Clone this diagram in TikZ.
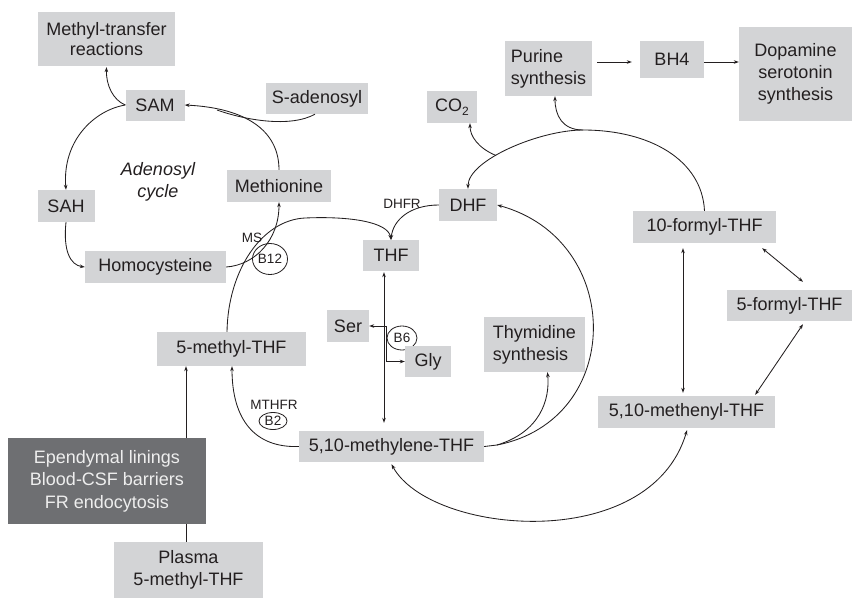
\documentclass[tikz,border=0pt]{standalone}
\usepackage{fontspec}
\setmainfont{Liberation Sans}
\usetikzlibrary{arrows.meta,shapes.geometric}
\definecolor{boxg}{HTML}{D3D4D6}
\definecolor{darkg}{HTML}{6E6F72}
\definecolor{txt}{HTML}{231F20}
\definecolor{lighttxt}{HTML}{EEEEEE}
\tikzset{
  box/.style={fill=boxg, text=txt, inner sep=0pt, font=\fontsize{18}{22}\selectfont, align=center},
  dbox/.style={fill=darkg, text=lighttxt, inner sep=0pt, font=\fontsize{18}{22.5}\selectfont, align=center},
  lbl/.style={text=txt, inner sep=0pt, font=\fontsize{13.5}{14}\selectfont},
  vit/.style={draw=txt, ellipse, line width=0.8pt, inner sep=0pt, text=txt, font=\fontsize{13.5}{14}\selectfont},
  ln/.style={draw=txt, line width=0.85pt},
  arr/.style={ln, -{Stealth[length=5pt,width=3.6pt]}},
  darr/.style={ln, {Stealth[length=5pt,width=3.6pt]}-{Stealth[length=5pt,width=3.6pt]}}
}
\begin{document}
\begin{tikzpicture}[x=1pt,y=-1pt]
\useasboundingbox (0,0) rectangle (852,598);
% nodes
\node[box, minimum width=137, minimum height=54] (mtr) at (106.5,39) {Methyl-transfer\\[-2pt]reactions};
\node[box, minimum width=59, minimum height=31] (sam) at (155,105) {SAM};
\node[box, minimum width=102, minimum height=31] (sad) at (317,98.5) {S-adenosyl};
\node[box, minimum width=57, minimum height=32] (sah) at (66,206) {SAH};
\node[text=txt, inner sep=0pt, align=center, font=\fontsize{18}{22}\selectfont\itshape] (cyc) at (158,182) {Adenosyl\\cycle};
\node[box, minimum width=104, minimum height=32] (meth) at (279,186) {Methionine};
\node[box, minimum width=141, minimum height=32] (hcy) at (155.5,267) {Homocysteine};
\node[lbl] (ms) at (252,238) {MS};
\node[vit, minimum width=35, minimum height=31] (b12) at (270,259) {B12};
\node[box, minimum width=56, minimum height=31] (thf) at (391,255.5) {THF};
\node[box, minimum width=58, minimum height=32] (dhf) at (468,205) {DHF};
\node[lbl] (dhfr) at (402,204) {DHFR};
\node[box, minimum width=42, minimum height=32] (ser) at (348,326) {Ser};
\node[vit, minimum width=30, minimum height=24] (b6) at (402,338) {B6};
\node[box, minimum width=46, minimum height=31] (gly) at (428,361.5) {Gly};
\node[box, minimum width=149, minimum height=34] (mthf) at (231.5,349) {5-methyl-THF};
\node[lbl] (mthfr) at (274,405) {MTHFR};
\node[vit, minimum width=28, minimum height=17] (b2) at (273,421) {B2};
\node[box, minimum width=185, minimum height=31] (mene) at (391.5,446.5) {5,10-methylene-THF};
\node[box, minimum width=101, minimum height=55, align=left] (thy) at (534.5,344.5) {Thymidine\\synthesis};
\node[box, minimum width=50, minimum height=32] (co2) at (452,107) {CO\raisebox{-0.45ex}{\fontsize{12}{12}\selectfont 2}};
\node[box, minimum width=87, minimum height=55, align=left] (pur) at (548.5,68.5) {Purine\\synthesis};
\node[box, minimum width=64, minimum height=37] (bh4) at (672,59.5) {BH4};
\node[box, minimum width=113, minimum height=94] (dop) at (795.5,74) {Dopamine\\serotonin\\synthesis};
\node[box, minimum width=143, minimum height=32] (tfthf) at (704.5,227) {10-formyl-THF};
\node[box, minimum width=125, minimum height=31] (fthf) at (789.5,305.5) {5-formyl-THF};
\node[box, minimum width=177, minimum height=32] (menyl) at (686.5,412) {5,10-methenyl-THF};
\node[dbox, minimum width=198, minimum height=86] (epen) at (107,481) {Ependymal linings\\Blood-CSF barriers\\FR endocytosis};
\node[box, minimum width=149, minimum height=56] (plasma) at (188.5,570) {Plasma\\5-methyl-THF};
% helper coordinates
\coordinate (lx) at (186,0);
\coordinate (sj) at (217,110);
\coordinate (mj) at (497,445);
\coordinate (atop) at (583,130);
\coordinate (cj) at (496,155.5);
% adenosyl cycle
\draw[arr] (sam.west) .. controls (113,100) and (106,85) .. ([yshift=-1pt]mtr.south);
\draw[arr] (sam.west) .. controls (95,110) and (62,140) .. (sah.north);
\draw[arr] (sah.south) .. controls (63,250) and (70,265) .. (hcy.west);
\draw[arr] (hcy.east) .. controls (255,265) and (279,240) .. (meth.south);
\draw[arr] (meth.north) .. controls (279,130) and (245,108) .. (sam.east);
\draw[ln] ([xshift=-2pt]sad.south) .. controls (290,128) and (245,120) .. (sj);
% folate cycle
\draw[arr] ([xshift=-4.5pt]mthf.north) .. controls (228,270) and (262,220) .. (305,218) .. controls (350,216) and (388,222) .. (thf.north);
\draw[arr] (dhf.west) .. controls (410,205) and (393,220) .. (thf.north);
\draw[darr] ([xshift=-7pt,yshift=-1pt]thf.south) -- ([xshift=-7.5pt,yshift=8pt]mene.north);
\draw[darr] (ser.east) -- (386,326) -- (386,361.5) -- (gly.west);
\draw[arr] (mene.west) .. controls (255,448) and (232,420) .. ([xshift=0.5pt]mthf.south);
\draw[ln] (mene.east) -- (mj);
\draw[arr] (mj) .. controls (540,432) and (550,400) .. ([xshift=13pt]thy.south);
\draw[arr] (mj) .. controls (625,420) and (625,240) .. (dhf.east);
% top arc
\draw[ln] (tfthf.north) .. controls (702,160) and (650,130) .. (atop);
\draw[arr] (atop) .. controls (540,130) and (468,160) .. (dhf.north);
\draw[arr] (cj) .. controls (478,148) and (470,136) .. ([xshift=18pt]co2.south);
\draw[arr] (atop) .. controls (562,130) and (555,115) .. ([xshift=6.5pt]pur.south);
\draw[arr] ([xshift=5pt,yshift=6.5pt]pur.east) -- ([xshift=-8pt,yshift=-2.5pt]bh4.west);
\draw[arr] ([yshift=-2.5pt]bh4.east) -- ([yshift=12pt]dop.west);
% formyl interconversions
\draw[darr] ([xshift=-21.5pt,yshift=-5pt]tfthf.south) -- ([xshift=-3.5pt,yshift=3pt]menyl.north);
\draw[darr] ([xshift=-14pt,yshift=-5pt]tfthf.south east) -- ([xshift=13.5pt,yshift=8pt]fthf.north);
\draw[darr] ([xshift=13.5pt,yshift=-3pt]fthf.south) -- ([xshift=-20pt,yshift=1pt]menyl.north east);
\draw[darr] ([yshift=-2pt]mene.south) .. controls (430,535) and (650,555) .. ([xshift=0.5pt,yshift=-2pt]menyl.south);
% transport
\draw[ln] (lx |- plasma.north) -- (lx |- epen.south);
\draw[arr] (lx |- epen.north) -- (lx |- mthf.south);
\end{tikzpicture}
\end{document}
